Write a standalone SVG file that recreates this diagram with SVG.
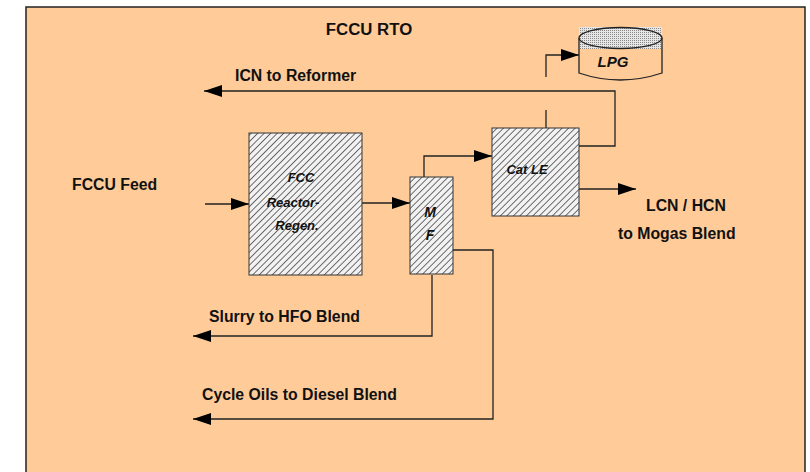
<svg xmlns="http://www.w3.org/2000/svg" width="810" height="472" viewBox="0 0 810 472">
  <defs>
    <pattern id="hatch" patternUnits="userSpaceOnUse" width="4.6" height="4.6" patternTransform="rotate(45)">
      <rect width="4.6" height="4.6" fill="#f2f2f2"/>
      <line x1="0" y1="0" x2="0" y2="4.6" stroke="#4a4a4a" stroke-width="1.6"/>
    </pattern>
    <pattern id="stipple" patternUnits="userSpaceOnUse" width="2" height="2">
      <rect width="2" height="2" fill="#e6e6e6"/>
      <rect width="1" height="1" fill="#888"/>
    </pattern>
    <marker id="arr" viewBox="0 0 18 12" refX="18" refY="6" markerWidth="18" markerHeight="12" markerUnits="userSpaceOnUse" orient="auto">
      <path d="M0,0 L18,6 L0,12 Z" fill="#000"/>
    </marker>
    <style>
      .lbl { font-family: "Liberation Sans", Arial, sans-serif; font-weight: bold; font-size: 15.8px; fill: #111; }
      .nlbl { font-family: "Liberation Sans", Arial, sans-serif; font-weight: bold; font-style: italic; font-size: 13px; fill: #111; text-anchor: middle; }
      .box { fill: url(#hatch); stroke: #333; stroke-width: 1; }
      .conn { fill: none; stroke: #222; stroke-width: 1.3; }
    </style>
  </defs>

  <rect x="0" y="0" width="810" height="472" fill="#ffffff"/>
  <rect x="26" y="7" width="779" height="470" fill="#ffcc99" stroke="#222" stroke-width="1.5"/>

  <text x="369" y="35" class="lbl" style="font-size:16.8px" text-anchor="middle">FCCU RTO</text>

  <g id="connectors">
    <path class="conn" d="M205,204 H249" marker-end="url(#arr)"/>
    <path class="conn" d="M362,203 H410" marker-end="url(#arr)"/>
    <path class="conn" d="M424,177 V156 H492" marker-end="url(#arr)"/>
    <path class="conn" d="M579,189 H636" marker-end="url(#arr)"/>
    <path class="conn" d="M579,146 H615 V91 H204" marker-end="url(#arr)"/>
    <path class="conn" d="M546,128 V110"/>
    <path class="conn" d="M546,77 V55 H579" marker-end="url(#arr)"/>
    <path class="conn" d="M432,275 V336 H193" marker-end="url(#arr)"/>
    <path class="conn" d="M453,250 H493 V419 H193" marker-end="url(#arr)"/>
  </g>

  <g id="lpg">
    <rect x="579" y="27" width="83" height="22" fill="url(#stipple)"/>
    <path d="M579,38 V73 Q620,87 662,73 V38" fill="none" stroke="#222" stroke-width="1.3"/>
    <ellipse cx="620.5" cy="38" rx="41.5" ry="10.5" fill="url(#stipple)" stroke="#222" stroke-width="1.3"/>
    <text x="613" y="67" class="nlbl" style="font-size:15px">LPG</text>
  </g>

  <g id="fcc">
    <rect x="249" y="133" width="113" height="142" class="box"/>
    <text x="301" y="182" class="nlbl">FCC</text>
    <text x="293" y="207" class="nlbl">Reactor-</text>
    <text x="297" y="230" class="nlbl">Regen.</text>
  </g>

  <g id="mf">
    <rect x="410" y="177" width="43" height="97" class="box"/>
    <text x="430" y="217" class="nlbl" style="font-size:14px">M</text>
    <text x="430" y="240" class="nlbl" style="font-size:14px">F</text>
  </g>

  <g id="catle">
    <rect x="492" y="128" width="87" height="88" class="box"/>
    <text x="527" y="174" class="nlbl">Cat LE</text>
  </g>

  <text x="72" y="190" class="lbl">FCCU Feed</text>
  <text x="235" y="81" class="lbl">ICN to Reformer</text>
  <text x="646" y="211" class="lbl">LCN / HCN</text>
  <text x="618" y="239" class="lbl">to Mogas Blend</text>
  <text x="209" y="322" class="lbl">Slurry to HFO Blend</text>
  <text x="202" y="400" class="lbl">Cycle Oils to Diesel Blend</text>
</svg>
